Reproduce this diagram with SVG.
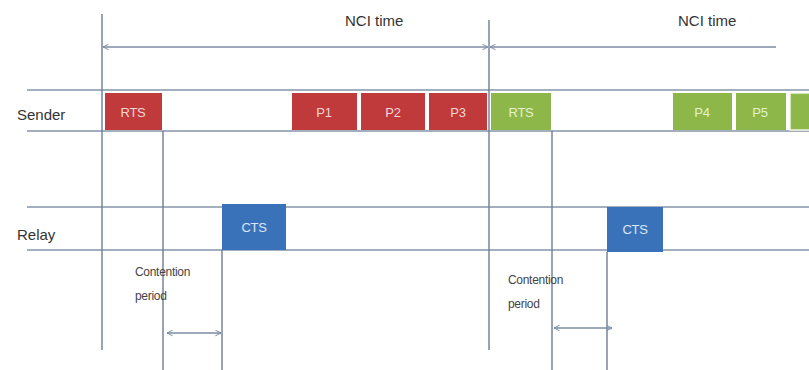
<svg xmlns="http://www.w3.org/2000/svg" width="809" height="370" viewBox="0 0 809 370">
<defs>
<marker id="ah" viewBox="0 0 10 10" refX="9" refY="5" markerWidth="7" markerHeight="7" orient="auto-start-reverse" markerUnits="userSpaceOnUse">
<path d="M1,1 L9,5 L1,9" fill="none" stroke="#7d8da3" stroke-width="1.4"/>
</marker>
<style>
.hl{stroke:#8593a8;stroke-width:1.6;fill:none}
.vl{stroke:#6f7c90;stroke-width:1.4;fill:none}
.ar{stroke:#7d8da3;stroke-width:1.6;fill:none}
.lbl{font-family:"Liberation Sans",Arial,sans-serif;font-size:15px;fill:#333}
.sm{font-family:"Liberation Sans",Arial,sans-serif;font-size:12px;fill:#444;letter-spacing:-0.3px}
.bt{font-family:"Liberation Sans",Arial,sans-serif;font-size:13px;text-anchor:middle;letter-spacing:-0.3px}
.red{fill:#c0393b}
.grn{fill:#8db849}
.blu{fill:#3a72b9}
</style>
</defs>
<rect width="809" height="370" fill="#ffffff"/>
<g id="connectors">
<line class="hl" x1="27" y1="90" x2="809" y2="90"/>
<line class="hl" x1="27" y1="131" x2="809" y2="131"/>
<line class="hl" x1="27" y1="207" x2="809" y2="207"/>
<line class="hl" x1="27" y1="250" x2="809" y2="250"/>
<line class="vl" x1="102" y1="14" x2="102" y2="350"/>
<line class="vl" x1="163" y1="131" x2="163" y2="370"/>
<line class="vl" x1="222" y1="250" x2="222" y2="370"/>
<line class="vl" x1="489" y1="20" x2="489" y2="350"/>
<line class="vl" x1="552" y1="131" x2="552" y2="370"/>
<line class="vl" x1="607" y1="252" x2="607" y2="370"/>
<line class="ar" x1="103" y1="47" x2="488" y2="47" marker-start="url(#ah)" marker-end="url(#ah)"/>
<line class="ar" x1="490" y1="47" x2="776" y2="47" marker-start="url(#ah)"/>
<line class="ar" x1="167" y1="333" x2="221" y2="333" marker-start="url(#ah)" marker-end="url(#ah)"/>
<line class="ar" x1="554" y1="328" x2="612" y2="328" marker-start="url(#ah)" marker-end="url(#ah)"/>
</g>
<g id="labels">
<text class="lbl" x="17" y="120" font-size="16">Sender</text>
<text class="lbl" x="17" y="240" font-size="16">Relay</text>
<text class="lbl" x="345" y="26" font-size="14">NCI time</text>
<text class="lbl" x="678" y="26" font-size="14">NCI time</text>
<text class="sm" x="135" y="276">Contention</text>
<text class="sm" x="135" y="300">period</text>
<text class="sm" x="508" y="284">Contention</text>
<text class="sm" x="508" y="308">period</text>
</g>
<g id="rts1"><rect class="red" x="105" y="93" width="57" height="37"/><text class="bt" x="133" y="117" fill="#f3d6d6">RTS</text></g>
<g id="p1"><rect class="red" x="292" y="93" width="65" height="37"/><text class="bt" x="324" y="117" fill="#f3d6d6">P1</text></g>
<g id="p2"><rect class="red" x="361" y="93" width="64" height="37"/><text class="bt" x="393" y="117" fill="#f3d6d6">P2</text></g>
<g id="p3"><rect class="red" x="429" y="93" width="58" height="37"/><text class="bt" x="458" y="117" fill="#f3d6d6">P3</text></g>
<g id="rts2"><rect class="grn" x="491" y="93" width="60" height="37"/><text class="bt" x="521" y="117" fill="#e6f0cf">RTS</text></g>
<g id="p4"><rect class="grn" x="673" y="93" width="59" height="37"/><text class="bt" x="702" y="117" fill="#e6f0cf">P4</text></g>
<g id="p5"><rect class="grn" x="736" y="93" width="50" height="37"/><text class="bt" x="760" y="117" fill="#e6f0cf">P5</text></g>
<g id="p6"><rect class="grn" x="790" y="93" width="22" height="37" stroke="#f4f8e8" stroke-width="1.5"/></g>
<g id="cts1"><rect class="blu" x="222" y="204" width="64" height="46"/><text class="bt" x="254" y="232" fill="#dbe6f5">CTS</text></g>
<g id="cts2"><rect class="blu" x="607" y="207" width="56" height="45"/><text class="bt" x="635" y="234" fill="#dbe6f5">CTS</text></g>
</svg>
